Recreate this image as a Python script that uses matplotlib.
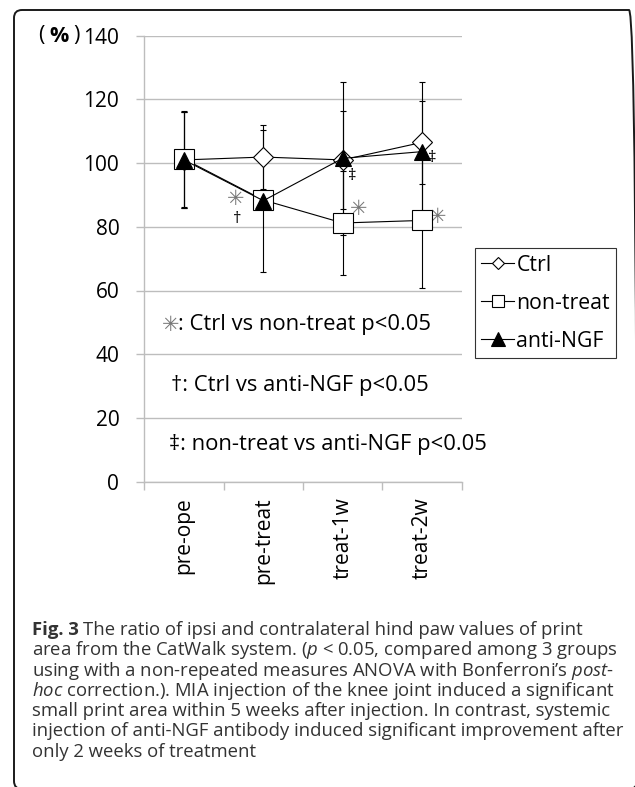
import matplotlib

matplotlib.use("Agg")

import matplotlib.pyplot as plt  # noqa: E402
from matplotlib.lines import Line2D  # noqa: E402
from matplotlib.patches import FancyBboxPatch  # noqa: E402
from matplotlib.transforms import IdentityTransform  # noqa: E402

plt.rcParams["font.family"] = ["Open Sans", "DejaVu Sans"]
plt.rcParams["mathtext.fontset"] = "custom"
plt.rcParams["mathtext.rm"] = "Open Sans"
plt.rcParams["mathtext.it"] = "Open Sans:italic"
plt.rcParams["mathtext.bf"] = "Open Sans:bold"

categories = ["pre-ope", "pre-treat", "treat-1w", "treat-2w"]
ctrl = [101.0, 101.9, 101.0, 106.5]
ctrl_err = [15.0, 10.0, 15.3, 13.0]
nontreat = [101.3, 88.4, 81.2, 82.0]
nontreat_err = [15.0, 2.5, 16.4, 21.3]
antingf = [101.0, 88.2, 101.5, 103.6]
antingf_err = [15.0, 22.3, 24.1, 22.0]

yticks = [0, 20, 40, 60, 80, 100, 120, 140]

caption_head = "Fig. 3"
caption_lines = [
    r"The ratio of ipsi and contralateral hind paw values of print",
    r"area from the CatWalk system. ($\mathit{p}$ < 0.05, compared among 3 groups",
    r"using with a non-repeated measures ANOVA with Bonferroni’s $\mathit{post}$-",
    r"$\mathit{hoc}$ correction.). MIA injection of the knee joint induced a significant",
    r"small print area within 5 weeks after injection. In contrast, systemic",
    r"injection of anti-NGF antibody induced significant improvement after",
    r"only 2 weeks of treatment",
]

W, H = 635, 787
fig = plt.figure(figsize=(W / 100, H / 100), dpi=100)
ax = fig.add_axes([144.3 / W, 1 - 481.6 / H, 317.4 / W, 445.9 / H])

x = list(range(len(categories)))
grid_c = "#bdbdbd"

series = [
    (ctrl, ctrl_err, "D", 9.7, "white", 3),
    (nontreat, nontreat_err, "s", 14.4, "white", 4),
    (antingf, antingf_err, "^", 11.5, "black", 5),
]
for vals, err, mk, ms, fc, z in series:
    ax.errorbar(x, vals, yerr=err, fmt="none", ecolor="black", elinewidth=0.8,
                capsize=2.2, capthick=0.8, zorder=2)
for vals, err, mk, ms, fc, z in series:
    ax.plot(x, vals, "-", color="black", linewidth=0.8, marker=mk, markersize=ms,
            markerfacecolor=fc, markeredgecolor="black", markeredgewidth=0.8, zorder=z)

ax.set_xlim(-0.5, 3.5)
ax.set_ylim(0, 140)
ax.set_yticks(yticks)
ax.set_yticklabels([str(t) for t in yticks], fontsize=15)
ax.yaxis.grid(True, color=grid_c, linewidth=1.0)
ax.set_axisbelow(True)
ax.tick_params(axis="y", length=6, color=grid_c, width=1.0, pad=12)
ax.set_xticks(x)
ax.set_xticklabels(categories, rotation=90, fontsize=15)
ax.set_xticks([-0.5, 0.5, 1.5, 2.5, 3.5], minor=True)
ax.tick_params(axis="x", which="major", length=0, pad=11)
ax.tick_params(axis="x", which="minor", length=6, color=grid_c, width=1.0)
for s in ["top", "right"]:
    ax.spines[s].set_visible(False)
for s in ["left", "bottom"]:
    ax.spines[s].set_color(grid_c)
    ax.spines[s].set_linewidth(1.0)


def px(v):
    return (v - 184.3) / 79.3


# significance marks
star_kw = dict(family=["DejaVu Sans"], color="#777777", fontsize=15, ha="center", va="center")
ax.text(px(235.7), 88.6, "\u2733", **star_kw)
ax.text(px(359.0), 85.5, "\u2733", **star_kw)
ax.text(px(438.0), 83.2, "\u2733", **star_kw)
ax.text(px(237.7), 82.3, "†", fontsize=12, ha="center", va="center")
ax.text(px(352.0), 95.8, "‡", fontsize=12, ha="center", va="center")
ax.text(px(432.0), 101.6, "‡", fontsize=12, ha="center", va="center")

# key texts
ax.text(px(171.0), 49.2, "\u2733", **star_kw)
ax.text(px(178.5), 49.2, ": Ctrl vs non-treat p<0.05", fontsize=15.8, ha="left", va="center")
ax.text(px(171.7), 30.3, "†: Ctrl vs anti-NGF p<0.05", fontsize=15.8, ha="left", va="center")
ax.text(px(169.3), 11.5, "‡: non-treat vs anti-NGF p<0.05", fontsize=15.8, ha="left", va="center")

# unit label, full-width style spacing
for cx, ch, wt in [(41, "(", "normal"), (59, "%", "bold"), (76.5, ")", "normal")]:
    fig.text(cx / W, 1 - 36 / H, ch, fontsize=15.5, fontweight=wt, ha="center", va="center")

handles = [
    Line2D([], [], color="black", lw=0.8, marker="D", ms=6.6, mfc="white", mec="black", mew=0.8),
    Line2D([], [], color="black", lw=0.8, marker="s", ms=9.0, mfc="white", mec="black", mew=0.8),
    Line2D([], [], color="black", lw=0.8, marker="^", ms=9.5, mfc="black", mec="black", mew=0.8),
]
leg = fig.legend(handles, ["Ctrl", "non-treat", "anti-NGF"], loc="upper left",
                 bbox_to_anchor=(475 / W, 1 - 248.3 / H), fontsize=15.3, frameon=True,
                 fancybox=False, edgecolor="black", handlelength=1.55, handletextpad=0.1,
                 labelspacing=0.8, borderpad=0.3, borderaxespad=0)
leg.get_frame().set_linewidth(0.8)

fig.text(32 / W, 1 - 635 / H, caption_head, fontsize=13.3, fontweight="bold",
         color="#333333", ha="left", va="baseline")
for i, line in enumerate(caption_lines):
    x0 = 83 if i == 0 else 32
    fig.text(x0 / W, 1 - (635 + i * 20.3) / H, line, fontsize=13.3, color="#333333",
             ha="left", va="baseline")

border = FancyBboxPatch((14, -2), 623, 779, boxstyle="round,pad=0,rounding_size=8",
                        transform=IdentityTransform(), fill=False, edgecolor="#1a1a1a",
                        linewidth=1.4)
fig.patches.append(border)

fig.savefig("out.png", dpi=100)
